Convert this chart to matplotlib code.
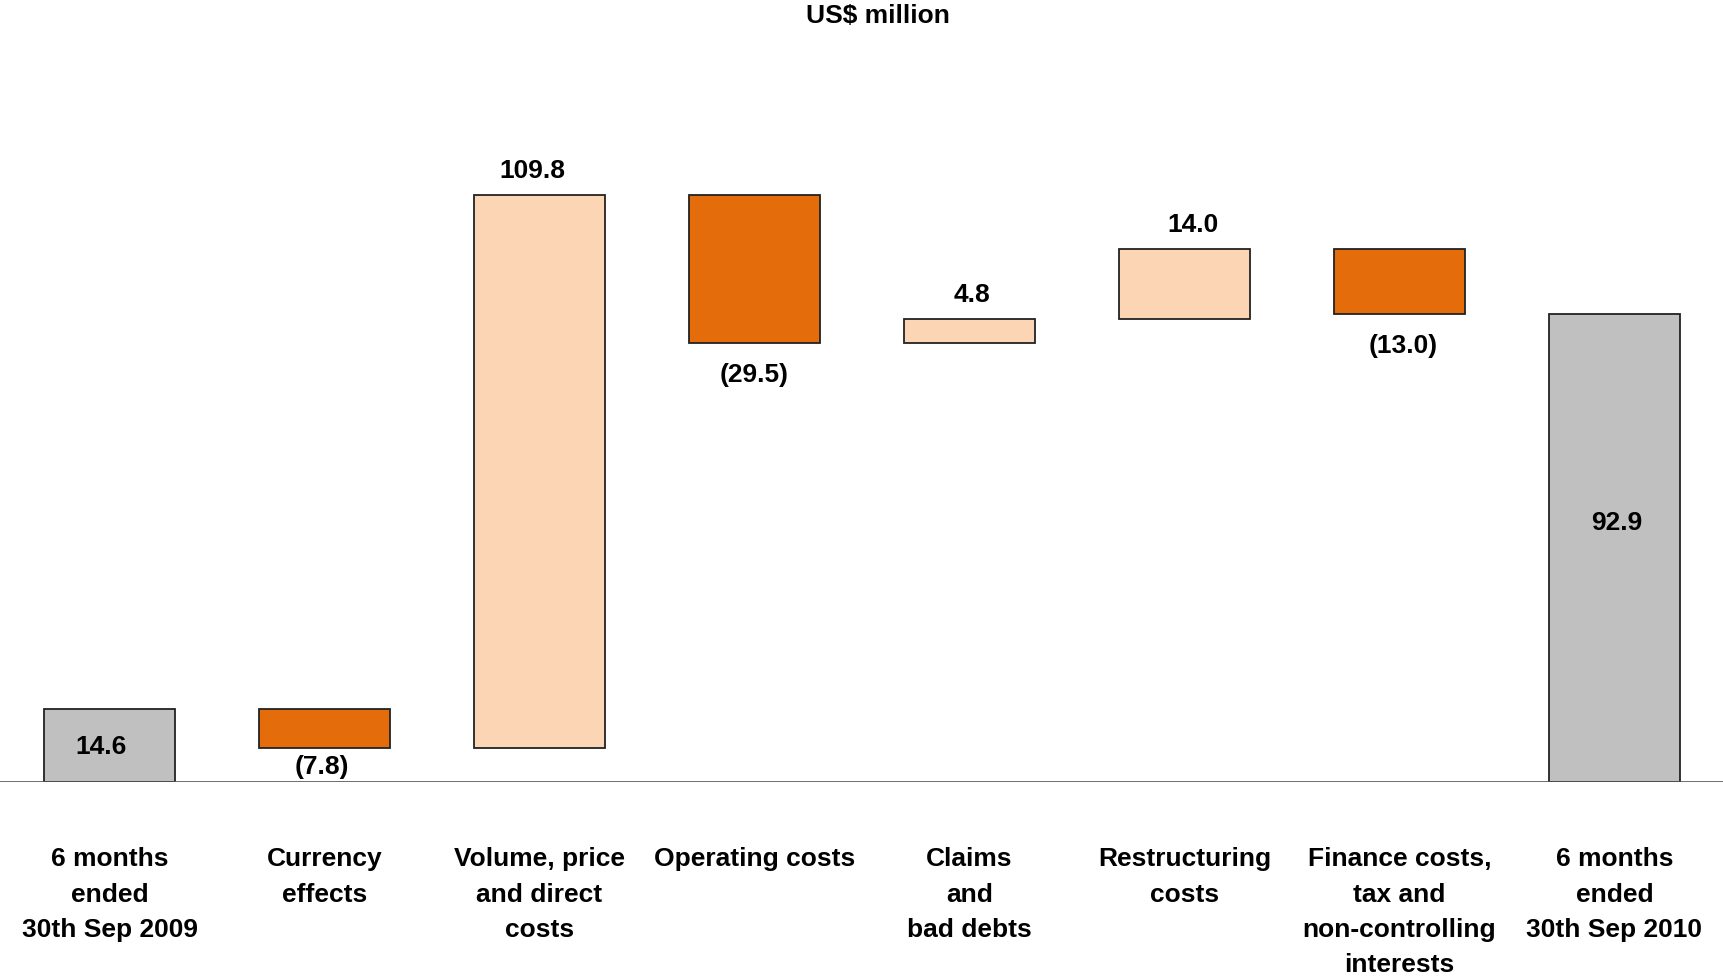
import numpy as np
import matplotlib
matplotlib.use("Agg")
import matplotlib.pyplot as plt

plt.rcParams['font.family'] = ['Liberation Sans', 'DejaVu Sans']

# data
categories = ["6 months\nended\n30th Sep 2009", "Currency\neffects",
              "Volume, price\nand direct\ncosts", "Operating costs",
              "Claims\nand\nbad debts", "Restructuring\ncosts",
              "Finance costs,\ntax and\nnon-controlling\ninterests",
              "6 months\nended\n30th Sep 2010"]
changes = [14.6, -7.8, 109.8, -29.5, 4.8, 14.0, -13.0, 92.9]
kinds = ["total", "delta", "delta", "delta", "delta", "delta", "delta", "total"]
value_labels = ["14.6", "(7.8)", "109.8", "(29.5)", "4.8", "14.0", "(13.0)", "92.9"]

gray = "#C0C0C0"
dark_orange = "#E46C0A"
light_orange = "#FCD5B4"

# work out floating bars
bottoms = []
heights = []
colors = []
running = 0.0
for v, k in zip(changes, kinds):
    if k == "total":
        bottoms.append(0.0)
        heights.append(v)
        colors.append(gray)
        running = v
    else:
        if v >= 0:
            bottoms.append(running)
            colors.append(light_orange)
        else:
            bottoms.append(running + v)
            colors.append(dark_orange)
        heights.append(abs(v))
        running += v

fig = plt.figure(figsize=(17.24, 9.78), dpi=100)
ax = fig.add_axes([0.0, 0.199, 1.0, 0.67])

x = np.arange(len(categories))
ax.bar(x, heights, bottom=bottoms, width=0.61, color=colors,
       edgecolor="#222222", linewidth=1.3, zorder=2)

ax.set_xlim(-0.51, len(categories) - 0.49)
ax.set_ylim(0, 130)
ax.axis("off")
ax.axhline(0, color="#555555", linewidth=1.2, zorder=3)

fs = 19
# small sideways nudges of the value labels (points)
nudge = [-6, -2, -5, 0, 2, 6, 3, 2]

# value labels
for i, (v, k, lab) in enumerate(zip(changes, kinds, value_labels)):
    if k == "total":
        ypos = bottoms[i] + heights[i] / 2
        if i == len(categories) - 1:
            ypos = heights[i] * 0.556
        ax.annotate(lab, (x[i], ypos), xytext=(nudge[i], 0),
                    textcoords="offset points", ha="center", va="center",
                    fontsize=fs, fontweight="bold", zorder=4)
    elif v >= 0:
        ax.annotate(lab, (x[i], bottoms[i] + heights[i]), xytext=(nudge[i], 18),
                    textcoords="offset points", ha="center", va="center",
                    fontsize=fs, fontweight="bold")
    else:
        off = -13 if i == 1 else -22
        ax.annotate(lab, (x[i], bottoms[i]), xytext=(nudge[i], off),
                    textcoords="offset points", ha="center", va="center",
                    fontsize=fs, fontweight="bold")

# category labels
for i, c in enumerate(categories):
    ax.annotate(c, (x[i], 0), xytext=(0, -46), textcoords="offset points",
                ha="center", va="top", fontsize=fs, fontweight="bold",
                linespacing=1.6)

fig.text(0.509, 0.984, "US$ million", ha="center", va="center",
         fontsize=fs, fontweight="bold")

fig.savefig("out.png", dpi=100)
